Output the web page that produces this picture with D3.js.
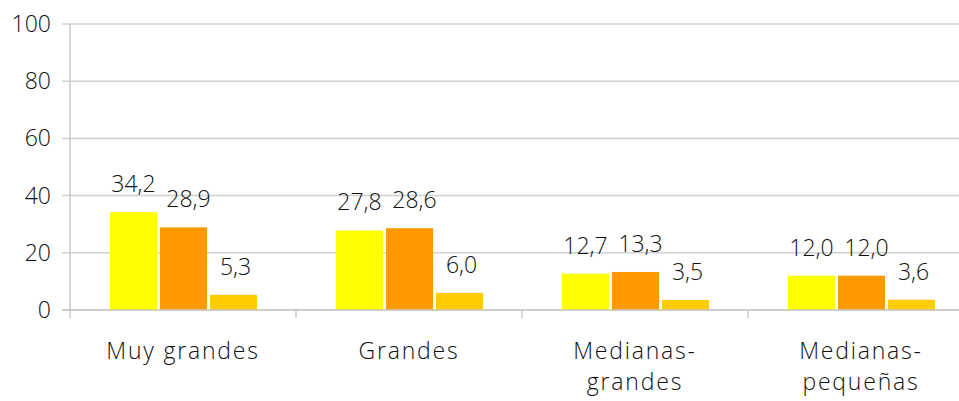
<!DOCTYPE html>
<html><head><meta charset="utf-8">
<script src="https://cdn.jsdelivr.net/npm/d3@7"></script>
<style>body{margin:0;background:#fff}svg{display:block}text{font-family:"Open Sans","DejaVu Sans",sans-serif;font-weight:300;fill:#111}</style>
</head><body><div id="c"></div>
<script>
const categories = [["Muy grandes"],["Grandes"],["Medianas-","grandes"],["Medianas-","pequeñas"]];
const series1 = [34.2, 27.8, 12.7, 12.0];
const series2 = [28.9, 28.6, 13.3, 12.0];
const series3 = [5.3, 6.0, 3.5, 3.6];
const colors = ["#FFFF00", "#FF9900", "#FFCC00"];
const yTicks = [0, 20, 40, 60, 80, 100];

const W = 959, H = 401;
const svg = d3.select("#c").append("svg").attr("width", W).attr("height", H);
const y = d3.scaleLinear().domain([0, 100]).range([310, 24]);
const x = d3.scaleBand().domain(d3.range(categories.length)).range([70, 974]).paddingInner(0).paddingOuter(0);
const x1 = d3.scaleBand().domain([0,1,2]).range([40, 187]).paddingInner(0.06);
const allSeries = [series1, series2, series3];
const labelShift = [0, 5, 2];

svg.append("g").selectAll("line").data(yTicks).join("line")
  .attr("x1", 62).attr("x2", 974).attr("y1", d => y(d)).attr("y2", d => y(d))
  .attr("stroke", "#d0d0d0").attr("stroke-width", 1.5);
svg.append("line").attr("x1", 70).attr("x2", 70).attr("y1", 24).attr("y2", 310).attr("stroke", "#c8c8c8").attr("stroke-width", 1.5);
svg.append("g").selectAll("text").data(yTicks).join("text")
  .attr("x", 51).attr("y", d => y(d) + 8).attr("text-anchor", "end").attr("font-size", 23)
  .text(d => d);
svg.append("g").selectAll("line").data(d3.range(categories.length)).join("line")
  .attr("x1", d => x(d)).attr("x2", d => x(d)).attr("y1", 310).attr("y2", 318)
  .attr("stroke", "#c8c8c8").attr("stroke-width", 1.5);

const groups = svg.append("g").selectAll("g").data(d3.range(categories.length)).join("g")
  .attr("transform", i => `translate(${x(i)},0)`);
allSeries.forEach((s, k) => {
  groups.append("rect")
    .attr("x", i => x1(k)).attr("width", x1.bandwidth())
    .attr("y", i => y(s[i])).attr("height", i => y(0) - y(s[i]))
    .attr("fill", colors[k]);
  groups.append("text")
    .attr("x", i => x1(k) + x1.bandwidth()/2 + labelShift[k]).attr("y", i => y(s[i]) - 20)
    .attr("text-anchor", "middle").attr("font-size", 23)
    .text(i => s[i].toFixed(1).replace(".", ","));
});
svg.append("line").attr("x1", 62).attr("x2", 974).attr("y1", 310).attr("y2", 310).attr("stroke", "#c8c8c8").attr("stroke-width", 1.5);

svg.append("g").selectAll("text").data(categories).join("text")
  .attr("x", (d, i) => x(i) + x.bandwidth()/2).attr("y", 359)
  .attr("text-anchor", "middle").attr("font-size", 23).attr("letter-spacing", 1.8)
  .each(function(d) {
    d3.select(this).selectAll("tspan").data(d).join("tspan")
      .attr("x", d3.select(this).attr("x")).attr("dy", (t, j) => j === 0 ? 0 : 31).text(t => t);
  });
</script></body></html>
